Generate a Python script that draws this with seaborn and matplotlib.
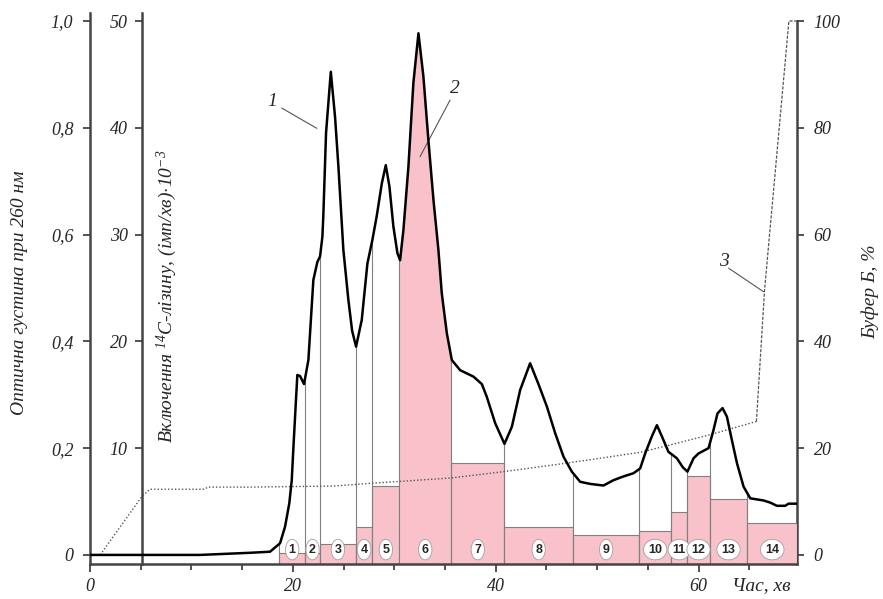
import seaborn as sns
import matplotlib.pyplot as plt
import numpy as np

# chromatogram data, time in minutes
od_time = [0.0, 10.85, 15.78, 17.75, 18.74, 19.23, 19.65, 19.89, 20.05, 20.22, 20.44, 20.71,
           21.1, 21.53, 22.02, 22.42, 22.68, 22.91, 23.0, 23.27, 23.74, 24.16, 24.49, 24.98,
           25.47, 25.84, 26.23, 26.79, 27.35, 27.84, 28.27, 28.77, 29.16, 29.52, 29.91, 30.31,
           30.57, 30.9, 31.39, 31.88, 32.38, 32.87, 33.36, 33.86, 34.35, 34.68, 35.18, 35.67,
           36.49, 37.8, 38.63, 39.12, 39.94, 40.86, 41.59, 42.41, 43.39, 44.21, 45.04, 45.86,
           46.68, 47.5, 48.32, 49.31, 50.62, 51.61, 52.59, 53.58, 54.24, 54.73, 55.39, 55.89,
           56.38, 57.03, 57.86, 58.45, 58.9, 59.5, 59.99, 60.98, 61.47, 61.86, 62.36, 62.79,
           63.28, 63.78, 64.43, 65.09, 66.4, 67.06, 67.72, 68.54, 68.87, 69.69]
od_value = [0.0, 0.0, 0.004, 0.006, 0.022, 0.053, 0.097, 0.14, 0.2, 0.26, 0.337, 0.335,
            0.32, 0.365, 0.515, 0.549, 0.559, 0.596, 0.634, 0.79, 0.905, 0.82, 0.727, 0.571,
            0.478, 0.42, 0.39, 0.44, 0.546, 0.59, 0.635, 0.696, 0.73, 0.69, 0.615, 0.565,
            0.552, 0.609, 0.727, 0.884, 0.977, 0.896, 0.777, 0.665, 0.571, 0.49, 0.415, 0.365,
            0.346, 0.334, 0.32, 0.296, 0.247, 0.208, 0.24, 0.309, 0.359, 0.32, 0.278, 0.228,
            0.184, 0.156, 0.137, 0.133, 0.13, 0.14, 0.147, 0.153, 0.162, 0.19, 0.222, 0.243,
            0.222, 0.193, 0.181, 0.164, 0.156, 0.181, 0.19, 0.2, 0.234, 0.265, 0.275, 0.259,
            0.215, 0.172, 0.128, 0.106, 0.102, 0.098, 0.092, 0.092, 0.096, 0.096]

# buffer B gradient, %
buf_time = [1.0, 5.1, 5.9, 11.3, 11.6, 15.8, 24.0, 27.6, 35.5, 40.8, 47.0, 54.2, 57.2,
            61.1, 65.7, 66.5, 68.9, 69.7]
buf_pct = [0, 10.9, 12.3, 12.3, 12.7, 12.7, 12.9, 13.4, 14.4, 15.6, 17.2, 19.2, 20.6,
           22.5, 25.0, 49.6, 100, 100]

# fractions: edges (min) and 14C-lysine counts (imp/min * 10^-3); fraction 6 is filled under the curve
frac_edges = [18.67, 21.2, 22.68, 26.2, 27.84, 30.5, 35.6, 40.86, 47.6, 54.17, 57.27,
              58.9, 61.08, 64.82, 69.7]
frac_counts = [0.2, 0.2, 1.0, 2.6, 6.5, None, 8.6, 2.6, 1.9, 2.2, 4.0, 7.4, 5.2, 3.0]
frac_labels = [str(i) for i in range(1, 15)]

sns.set_style("ticks")
plt.rcParams['font.family'] = ['Liberation Serif', 'DejaVu Serif']
plt.rcParams['font.style'] = 'italic'
plt.rcParams['mathtext.fontset'] = 'custom'
plt.rcParams['mathtext.rm'] = 'Liberation Serif:italic'
plt.rcParams['mathtext.it'] = 'Liberation Serif:italic'

W, H = 883, 599
fig = plt.figure(figsize=(W / 100, H / 100), dpi=100)
ax = fig.add_axes([90 / W, 1 - 564 / H, 707 / W, 551 / H])
ybot, ytop = -0.017, 1.015
pink = '#f9c1c9'
edge = '#808080'

# fraction bars
for i, c in enumerate(frac_counts):
    x0, x1 = frac_edges[i], frac_edges[i + 1]
    if c is None:
        xs = [x0] + [t for t in od_time if x0 < t < x1] + [x1]
        ys = np.interp(xs, od_time, od_value)
        ax.fill_between(xs, ybot, ys, color=pink, lw=0, zorder=1)
        continue
    ax.bar(x0, c / 50 - ybot, bottom=ybot, width=x1 - x0, align='edge',
           color=pink, edgecolor=edge, lw=0.8, zorder=1)

# boundary lines up to the OD curve
for t in frac_edges[:-1]:
    top = np.interp(t, od_time, od_value)
    ax.plot([t, t], [ybot, top], color=edge, lw=0.8, zorder=2)

sns.lineplot(x=od_time, y=od_value, ax=ax, color='black', lw=1.8, estimator=None, zorder=4)
bt = np.array(buf_time)
bp = np.array(buf_pct) / 100
k = buf_time.index(65.7)
sns.lineplot(x=bt[:k + 1], y=bp[:k + 1], ax=ax, color='#555555', lw=1.0,
             linestyle=(0, (1, 1.5)), estimator=None, zorder=3)
sns.lineplot(x=bt[k:], y=bp[k:], ax=ax, color='#555555', lw=0.9,
             linestyle=(0, (2.5, 1.2)), estimator=None, zorder=3)

# fraction numbers
for i, lab in enumerate(frac_labels):
    xc = (frac_edges[i] + frac_edges[i + 1]) / 2
    ax.text(xc, 0.010, lab, ha='center', va='center', fontsize=9, fontweight='bold',
            family='Liberation Sans', style='normal', zorder=6,
            bbox=dict(boxstyle='ellipse,pad=0.1', fc='white', ec='#a0a0a0', lw=0.6))

# curve callouts
ax.text(17.92, 0.849, '1', fontsize=14, ha='center', va='center')
ax.plot([18.9, 22.36], [0.837, 0.799], color='#555555', lw=0.8)
ax.text(35.99, 0.874, '2', fontsize=14, ha='center', va='center')
ax.plot([35.5, 32.54], [0.852, 0.746], color='#555555', lw=0.8)
ax.text(62.46, 0.549, '3', fontsize=14, ha='center', va='center')
ax.plot([62.96, 66.4], [0.537, 0.493], color='#555555', lw=0.8)

ax.set_xlim(0, 69.7)
ax.set_ylim(ybot, ytop)
ax.set_xlabel('')
ax.set_ylabel('')
for s in ['top', 'right']:
    ax.spines[s].set_visible(False)
for s in ['left', 'bottom']:
    ax.spines[s].set_linewidth(1.8)
    ax.spines[s].set_color('#444444')

ax.set_xticks([0, 20, 40, 60])
ax.set_xticklabels(['0', '20', '40', '60'])
ax.set_xticks(np.arange(0, 70, 5), minor=True)
ax.set_yticks([0, 0.2, 0.4, 0.6, 0.8, 1.0])
ax.set_yticklabels(['0', '0,2', '0,4', '0,6', '0,8', '1,0'])
ax.tick_params(axis='x', which='major', length=6, width=1.3, color='#444444', labelsize=13, pad=4)
ax.tick_params(axis='x', which='minor', length=4, width=1.3, color='#444444')
ax.tick_params(axis='y', length=5, width=1.3, color='#444444', labelsize=13, pad=7)

# inner 14C axis at 5 min
inner = ax.secondary_yaxis(5.1 / 69.7, functions=(lambda y: y * 50, lambda y: y / 50))
inner.set_yticks([10, 20, 30, 40, 50])
inner.set_yticklabels(['10', '20', '30', '40', '50'])
inner.spines['left'].set_linewidth(1.8)
inner.spines['left'].set_color('#444444')
inner.tick_params(axis='y', length=5, width=1.3, color='#444444', labelsize=13, pad=5)

# right buffer axis
right = ax.secondary_yaxis('right', functions=(lambda y: y * 100, lambda y: y / 100))
right.set_yticks([0, 20, 40, 60, 80, 100])
right.set_yticklabels(['0', '20', '40', '60', '80', '100'])
right.spines['right'].set_linewidth(1.8)
right.spines['right'].set_color('#444444')
right.spines['right'].set_bounds(ybot * 100, 100)
right.tick_params(axis='y', length=5, width=1.3, color='#444444', labelsize=13, pad=7)

# axis titles
fig.text(20 / W, 1 - 293 / H, 'Оптична густина при 260 нм', rotation=90,
         ha='center', va='center', fontsize=14)
fig.text(167 / W, 1 - 296 / H, 'Включення $^{14}$C-лізину, (імп/хв)$\\cdot$10$^{-3}$',
         rotation=90, ha='center', va='center', fontsize=14)
fig.text(870 / W, 1 - 292 / H, 'Буфер Б, %', rotation=90, ha='center', va='center', fontsize=14)
fig.text(761 / W, 1 - 586 / H, 'Час, хв', ha='center', va='center', fontsize=14)

plt.savefig('out.png', dpi=100)
